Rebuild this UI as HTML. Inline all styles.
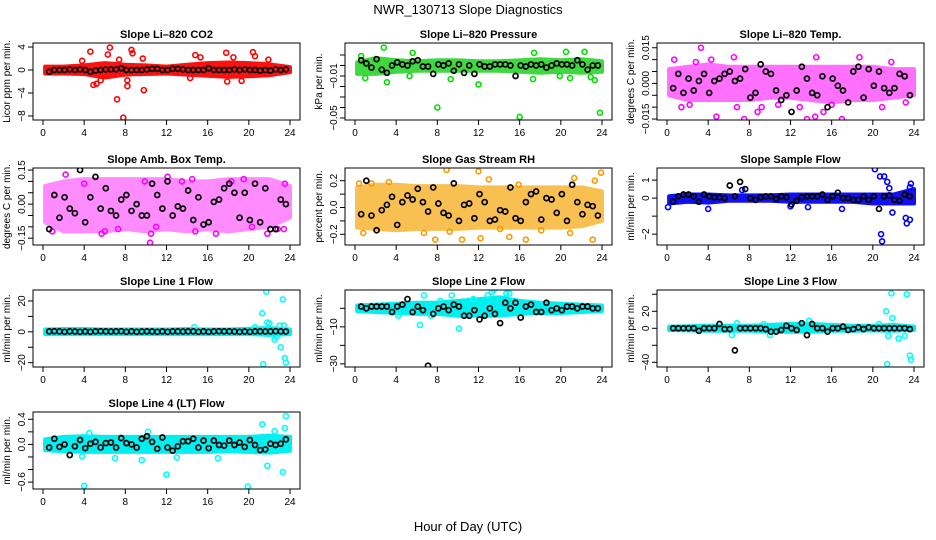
<!DOCTYPE html>
<html><head><meta charset="utf-8">
<style>
html,body{margin:0;padding:0;background:#fff;}
svg{display:block;font-family:"Liberation Sans",sans-serif;}
</style></head>
<body>
<svg id="chart" width="936" height="540" viewBox="0 0 936 540">
<rect width="936" height="540" fill="#fff"/>
<text x="468" y="14" text-anchor="middle" font-size="13">NWR_130713  Slope Diagnostics</text>
<text x="468" y="531" text-anchor="middle" font-size="13">Hour of Day (UTC)</text>
</svg>
<script>
const meanHours = [0.6,1.1,1.6,2.1,2.6,3.1,3.6,4.1,4.6,5.1,5.6,6.1,6.6,7.1,7.6,8.1,8.6,9.1,9.6,10.1,10.6,11.1,11.6,12.1,12.6,13.1,13.6,14.1,14.6,15.1,15.6,16.1,16.6,17.1,17.6,18.1,18.6,19.1,19.6,20.1,20.6,21.1,21.6,22.1,22.6,23.1,23.6];
const bandHours = [0.2,2,4,6,8,10,12,14,16,18,20,22,24];
const xTicks = [0,4,8,12,16,20,24];

const co2Lo = [-0.6,-0.6,-0.7,-1.3,-0.8,-0.7,-0.6,-0.8,-1.0,-1.2,-1.1,-0.9,-0.4];
const co2Hi = [0.6,0.6,0.8,1.2,0.9,0.8,0.6,0.9,1.2,1.3,1.2,1.0,0.5];
const co2OutX = [4.9,5.2,5.6,6.3,6.5,7.2,7.8,8.6,8.7,8.2,8.2,9.8,9.7,3.8,4.6,7.4,14.8,15.3,17.8,18.5,20.4,20.6,21.9,17.9,19.3,14.3];
const co2OutY = [-2.6,-2.4,-1.8,2.7,3.9,-5.1,-8.3,3.5,2.9,-1.8,-2.8,-3.5,2.0,1.6,3.2,1.8,2.6,2.2,3.0,2.2,3.1,2.4,1.8,-2.0,-1.9,-1.4];
const co2Mean = [-0.3,0,0,0,0.1,0,0.1,0,-0.3,-0.1,0,0.1,0.1,0.1,0.3,0,0,0,0,0.1,0.2,0.2,0,0,0.2,0.2,0.1,0,0,0,0,0.3,0,0,0,0,0.1,0,0.1,0,0,-0.1,0,-0.1,0.1,0,0.1];

const presLo = [-0.008,-0.008,-0.006,-0.005,-0.005,-0.005,-0.005,-0.005,-0.006,-0.007,-0.006,-0.007,-0.006];
const presHi = [0.003,0.007,0.005,0.004,0.005,0.005,0.004,0.004,0.005,0.006,0.005,0.006,0.004];
const presOutX = [2.8,5.6,17.4,20.5,22.3,0.6,3.1,5.3,12.0,8.0,16.0,23.8,1.0,9.3,19.9,20.9,22.9,23.3,17.3];
const presOutY = [0.017,0.012,0.012,0.013,0.013,0.009,-0.016,-0.010,-0.018,-0.040,-0.049,-0.045,-0.012,-0.013,-0.010,-0.012,-0.011,-0.014,-0.013];
const presMean = [0.005,0.002,-0.002,0.006,-0.004,-0.007,0.000,0.003,0.001,0.000,0.004,0.005,-0.001,-0.001,-0.008,0.001,0.000,0.002,-0.005,0.001,-0.007,0.000,-0.008,0.001,-0.001,-0.001,0.001,0.001,0.001,0.000,-0.010,0.000,-0.001,0.001,0.000,0.001,-0.002,0.000,0.002,0.001,0.001,0.000,0.005,0.001,-0.004,0.000,0.000];

const tempLo = [-0.005,-0.007,-0.007,-0.007,-0.007,-0.006,-0.006,-0.007,-0.008,-0.007,-0.007,-0.006,-0.005];
const tempHi = [0.006,0.007,0.008,0.007,0.007,0.007,0.007,0.007,0.007,0.007,0.007,0.006,0.006];
const tempOutX = [3.3,0.7,2.8,4.3,6.5,4.8,7.5,8.8,9.2,13.6,14.5,15.2,17.0,18.7,14.4,1.4,2.2,6.8,10.8,12.9,20.9,23.2,16.0,21.8];
const tempOutY = [0.015,0.010,0.009,0.010,0.011,-0.014,-0.015,-0.012,-0.010,-0.015,0.011,-0.012,-0.015,0.011,-0.014,-0.010,-0.009,-0.010,-0.009,-0.010,-0.010,-0.008,-0.009,0.009];
const tempMean = [-0.002,0.004,-0.004,0.002,-0.003,0.001,0.004,-0.004,0.001,0.002,0.004,0.005,0.001,0.002,0.006,-0.006,-0.004,0.008,0.005,0.004,-0.003,-0.007,-0.005,-0.012,-0.003,0.007,0.002,-0.004,-0.005,0.003,-0.010,0.002,-0.001,-0.003,-0.008,0.005,0.007,-0.006,0.006,-0.001,0.005,-0.002,-0.004,-0.002,0.004,0.003,-0.005];

const ambLo = [-0.08,-0.12,-0.12,-0.12,-0.11,-0.12,-0.11,-0.12,-0.11,-0.12,-0.11,-0.10,-0.06];
const ambHi = [0.08,0.10,0.11,0.11,0.11,0.11,0.11,0.10,0.10,0.11,0.11,0.11,0.08];
const ambOutX = [2.2,4.0,0.9,10.4,10.5,12.1,13.5,14.5,18.3,19.5,21.8,23.5,7.3,5.7,6.0,9.9,14.8,16.8,20.3,22.8,23.4,11.0];
const ambOutY = [0.13,0.09,-0.12,-0.17,-0.13,0.12,0.10,0.11,0.10,0.11,-0.13,0.09,-0.11,-0.13,-0.12,0.10,-0.12,-0.13,-0.10,-0.11,-0.11,-0.10];
const ambMean = [-0.11,0.04,-0.06,0.03,-0.02,-0.04,0.15,-0.08,0.03,0.12,-0.02,0.07,-0.03,-0.05,0.02,0.04,-0.03,0.0,-0.05,-0.05,0.09,0.04,-0.02,0.10,-0.05,-0.01,-0.02,0.06,-0.07,0.03,-0.09,-0.08,0.01,0.02,0.07,0.09,0.05,-0.06,0.05,-0.07,0.09,-0.08,0.07,-0.11,-0.11,0.02,0.0];

const rhLo = [-0.15,-0.16,-0.17,-0.16,-0.16,-0.16,-0.15,-0.15,-0.15,-0.15,-0.15,-0.14,-0.10];
const rhHi = [0.15,0.17,0.17,0.16,0.16,0.16,0.15,0.15,0.15,0.15,0.15,0.15,0.12];
const rhOutX = [0.4,0.8,1.6,3.3,7.8,8.9,9.2,10.4,12.0,12.2,13.0,14.1,15.0,15.9,16.6,18.1,20.9,21.3,23.1,23.3,23.9,6.7];
const rhOutY = [0.18,-0.19,0.18,0.19,-0.24,0.28,-0.18,-0.24,0.27,-0.23,0.21,-0.16,-0.22,0.17,-0.24,-0.17,-0.19,0.22,-0.24,0.20,0.26,-0.19];
const rhMean = [-0.05,0.2,-0.06,-0.17,-0.02,0.02,0.08,-0.13,0.04,0.09,0.06,0.14,0.04,-0.03,0.15,0.03,-0.04,-0.06,0.18,-0.1,0.02,0.03,-0.08,0.1,0.04,-0.1,-0.09,-0.02,-0.03,0.15,-0.08,-0.1,0.04,0.1,0.12,-0.09,0.07,0.06,-0.04,0.1,-0.1,0.17,0.04,-0.05,0.02,0.01,-0.06];

const flowLo = [-0.3,-0.2,-0.25,-0.15,-0.15,-0.15,-0.2,-0.2,-0.2,-0.2,-0.3,-0.3,-0.3];
const flowHi = [0.1,0.2,0.2,0.15,0.15,0.15,0.2,0.2,0.2,0.2,0.2,0.2,0.5];
const flowOutX = [20.2,20.7,21.1,21.4,21.6,21.9,23.2,23.3,23.6,20.8,20.9,23.7,23.6,17.0,4.0,7.3,0.1,12.0,13.7];
const flowOutY = [1.6,1.2,1.2,0.9,0.55,-0.8,-1.1,-1.4,-1.2,-2.0,-2.4,0.8,0.6,-0.6,-0.6,0.45,-0.5,-0.45,-0.5];
const flowMean = [-0.2,0.1,0.2,0.2,0.1,-0.2,0.2,0.1,0.05,0.05,0,0.7,0.1,0.9,0.5,0,-0.1,0.05,0.1,0.1,-0.05,0.1,0.05,-0.35,-0.15,0.05,0.1,0.1,0.1,0.2,-0.1,0.1,0.3,0,0,-0.1,-0.1,0.1,-0.1,0.1,-0.6,0.1,0.15,-0.1,-0.15,0.2,0.1];

const l1Lo = [-1.5,-1.5,-1.5,-1.5,-1.5,-1.5,-1.5,-1.5,-1.5,-1.5,-1.5,-2,-1.5];
const l1Hi = [1.5,1.8,1.8,1.5,1.5,1.5,1.5,1.8,1.5,1.5,2,2.5,1.5];
const l1OutX = [21.3,21.7,21.8,22.0,22.5,23.0,23.1,23.3,23.5,23.6,21.4,22.7,23.4,20.6,14.7];
const l1OutY = [12,26,6,5.5,-5,4,-10,21,-17,-20,-21,-3,4,3,3];
const l1Mean = [0.3,0.4,0.3,0,0.3,0.2,0,0.2,0,0.3,0.4,0.3,0.2,0.3,0.4,0,0.3,0,0.2,0.3,0.2,0,0.3,0,0.3,0.3,0.2,0.3,0.3,0,0.3,0,0.3,0.4,0.3,0.3,0.2,0,0.2,0,0.3,0.3,0.2,0.3,0.4,0.3,0.2];

const l2Lo = [-1.5,-2,-2.5,-3,-3,-4,-4,-4,-3,-2.5,-2.5,-2,-1.5];
const l2Hi = [1.5,2,2.5,3,3,4,5,6,4,3,2.5,2,1.5];
const l2OutX = [6.7,6.3,10.1,4.2,13.5,9.4,15.0,14.7,12.9,7.4,8.3,11.5,13.3];
const l2OutY = [7,-9,-11,-4,10,7,8,8,7,-4,4,5,9];
const l2Mean = [1,0,1,1,1,1,-2,1,2,5,-2,1,-1,-31,-3,0,1,-1,2,1,-4,-4,-1,-6,-4,0,-3,-8,3,0,3,-5,1,2,-2,-2,3,-1,0,-1,1,1,0,1,1,0,0];

const l3Lo = [-2,-2.5,-3,-3,-3,-4,-4,-4,-3,-3,-2.5,-3,-2];
const l3Hi = [2,2.5,3,3,3,4,5,5,4,3,3,4,2];
const l3OutX = [21.3,21.8,23.3,21.9,21.5,22.5,23.1,23.6,23.7,21.4,6.3,6.8,10.0,13.8,9.4,20.6];
const l3OutY = [20,41,40,12,-9,-12,-9,-32,-37,-42,-8,6,-8,9,5,5];
const l3Mean = [0,0,0,0,0,-3,0,0,0,5,-1,-1,-26,0,0,0,0,0,-1,-4,-4,-2,3,0,-2,6,-8,5,0,0,-4,0,0,2,-2,-1,1,-1,1,0,0,0,0,0,0,0,-1];

const l4Lo = [-0.09,-0.11,-0.12,-0.12,-0.12,-0.12,-0.12,-0.12,-0.12,-0.11,-0.12,-0.13,-0.10];
const l4Hi = [0.08,0.12,0.13,0.12,0.12,0.12,0.12,0.12,0.12,0.12,0.12,0.14,0.12];
const l4OutX = [4.0,19.9,12.0,21.8,23.3,23.6,21.3,23.5,9.6,3.8,10.2,4.5,7.0,13.0,17.0,22.5];
const l4OutY = [-0.66,-0.67,-0.48,-0.34,-0.44,0.45,0.32,0.26,-0.25,-0.19,0.20,0.18,-0.22,-0.21,-0.22,0.21];
const l4Mean = [-0.05,0.09,-0.04,0,-0.17,-0.03,0.07,-0.06,0.01,0.04,-0.05,0.02,0.03,-0.05,0.1,0.02,0.00,-0.05,0.09,0.13,0.04,-0.07,0.11,-0.05,-0.10,-0.03,0.05,0.05,0.09,-0.05,0.06,-0.06,0.06,-0.01,-0.02,0.06,-0.01,0.03,-0.04,0.07,-0.01,-0.09,-0.08,0.01,-0.01,0.01,0.08];

const panels = [
 {name:'co2',title:'Slope Li\u2013820 CO2',ylab:'Licor ppm per min.',col:0,row:0,ymax:4.7,ymin:-8.7,ticks:[-8,-4,0,4],labels:['\u22128','\u22124','0','4'],color:'#ff0000',fill:'#ff1010',lo:co2Lo,hi:co2Hi,ox:co2OutX,oy:co2OutY,mean:co2Mean},
 {name:'pressure',title:'Slope Li\u2013820 Pressure',ylab:'kPa per min.',col:1,row:0,ymax:0.0214,ymin:-0.0519,ticks:[0.01,0,-0.01,-0.02,-0.03,-0.04,-0.05],labels:['','','\u22120.01','','','','\u22120.05'],color:'#00e000',fill:'#40d840',lo:presLo,hi:presHi,ox:presOutX,oy:presOutY,mean:presMean},
 {name:'li820-temp',title:'Slope Li\u2013820 Temp.',ylab:'degrees C per min.',col:2,row:0,ymax:0.017,ymin:-0.0154,ticks:[0.015,0.01,0.005,0,-0.005,-0.01,-0.015],labels:['0.015','','','0.000','','','\u22120.015'],color:'#ff00ff',fill:'#ff70ff',lo:tempLo,hi:tempHi,ox:tempOutX,oy:tempOutY,mean:tempMean},
 {name:'amb-box-temp',title:'Slope Amb. Box Temp.',ylab:'degrees C per min.',col:0,row:1,ymax:0.159,ymin:-0.18,ticks:[0.15,0.1,0.05,0,-0.05,-0.1,-0.15],labels:['0.15','','','0.00','','','\u22120.15'],color:'#ff00ff',fill:'#ff8cff',lo:ambLo,hi:ambHi,ox:ambOutX,oy:ambOutY,mean:ambMean},
 {name:'gas-stream-rh',title:'Slope Gas Stream RH',ylab:'percent per min.',col:1,row:1,ymax:0.295,ymin:-0.28,ticks:[0.2,0.1,0,-0.1,-0.2],labels:['0.2','','0.0','','\u22120.2'],color:'#ff9900',fill:'#f8c050',lo:rhLo,hi:rhHi,ox:rhOutX,oy:rhOutY,mean:rhMean},
 {name:'sample-flow',title:'Slope Sample Flow',ylab:'ml/min per min.',col:2,row:1,ymax:1.67,ymin:-2.6,ticks:[1,0,-1,-2],labels:['1','0','','\u22122'],color:'#0000ff',fill:'#1010f0',lo:flowLo,hi:flowHi,ox:flowOutX,oy:flowOutY,mean:flowMean},
 {name:'line1-flow',title:'Slope Line 1 Flow',ylab:'ml/min per min.',col:0,row:2,ymax:27.1,ymin:-22.8,ticks:[20,10,0,-10,-20],labels:['20','','0','','\u221220'],color:'#00ffff',fill:'#00f0f0',lo:l1Lo,hi:l1Hi,ox:l1OutX,oy:l1OutY,mean:l1Mean},
 {name:'line2-flow',title:'Slope Line 2 Flow',ylab:'ml/min per min.',col:1,row:2,ymax:9.9,ymin:-31.7,ticks:[0,-10,-20,-30],labels:['','\u221210','','\u221230'],color:'#00ffff',fill:'#00f0f0',lo:l2Lo,hi:l2Hi,ox:l2OutX,oy:l2OutY,mean:l2Mean},
 {name:'line3-flow',title:'Slope Line 3 Flow',ylab:'ml/min per min.',col:2,row:2,ymax:45,ymin:-45.5,ticks:[40,20,0,-20,-40],labels:['','20','0','','\u221240'],color:'#00ffff',fill:'#00f0f0',lo:l3Lo,hi:l3Hi,ox:l3OutX,oy:l3OutY,mean:l3Mean},
 {name:'line4-flow',title:'Slope Line 4 (LT) Flow',ylab:'ml/min per min.',col:0,row:3,ymax:0.516,ymin:-0.71,ticks:[0.4,0.2,0,-0.2,-0.4,-0.6],labels:['0.4','','0.0','','','\u22120.6'],color:'#00ffff',fill:'#00f0f0',lo:l4Lo,hi:l4Hi,ox:l4OutX,oy:l4OutY,mean:l4Mean}
];

const NS='http://www.w3.org/2000/svg';
const svg=document.getElementById('chart');
const colLeft=[33,345,657], rowTop=[43,168,290,412];
const W=267,H=77;
function mk(tag,attrs,parent){const e=document.createElementNS(NS,tag);for(const k in attrs)e.setAttribute(k,attrs[k]);parent.appendChild(e);return e;}

panels.forEach(p=>{
  const L=colLeft[p.col], T=rowTop[p.row];
  const xs=h=>L+10+h*(247/24);
  const ys=v=>T+(p.ymax-v)/(p.ymax-p.ymin)*H;
  const g=mk('g',{},svg);
  
  
  const clip=mk('clipPath',{id:'c-'+p.name},g);
  mk('rect',{x:L,y:T,width:W,height:H},clip);
  const plot=mk('g',{'clip-path':'url(#c-'+p.name+')'},g);
  let pts=[];
  bandHours.forEach((h,i)=>pts.push(xs(h).toFixed(1)+','+ys(p.hi[i]).toFixed(1)));
  for(let i=bandHours.length-1;i>=0;i--)pts.push(xs(bandHours[i]).toFixed(1)+','+ys(p.lo[i]).toFixed(1));
  const band=mk('polygon',{points:pts.join(' '),fill:p.fill,stroke:p.fill,'stroke-width':4,'stroke-linejoin':'round'},plot);
  
  
  p.ox.forEach((h,i)=>{
    const c=mk('circle',{cx:xs(h),cy:ys(p.oy[i]),r:2.5,fill:'none',stroke:p.color,'stroke-width':1.6},plot);
    
    
  });
  meanHours.forEach((h,i)=>{
    const c=mk('circle',{cx:xs(h),cy:ys(p.mean[i]),r:2.5,fill:'none',stroke:'#000','stroke-width':1.7},plot);
    
    
  });
  const box=mk('rect',{x:L,y:T,width:W,height:H,fill:'none',stroke:'#000','stroke-width':1},g);
  
  
  const t=mk('text',{x:L+W/2,y:T-5,'text-anchor':'middle','font-size':11,'font-weight':'bold'},g);
  t.textContent=p.title;
  
  
  const yl=mk('text',{x:0,y:0,'text-anchor':'middle','font-size':10,transform:'translate('+(L-23)+','+(T+H/2)+') rotate(-90)'},g);
  yl.textContent=p.ylab;
  
  
  xTicks.forEach(v=>{
    mk('line',{x1:xs(v),x2:xs(v),y1:T+H,y2:T+H+5,stroke:'#000'},g);
    const tx=mk('text',{x:xs(v),y:T+H+16,'text-anchor':'middle','font-size':10},g);
    tx.textContent=v;
    
    
  });
  p.ticks.forEach((v,i)=>{
    mk('line',{x1:L-5,x2:L,y1:ys(v),y2:ys(v),stroke:'#000'},g);
    if(p.labels[i]){
      const ty=mk('text',{x:0,y:0,'text-anchor':'middle','font-size':10,transform:'translate('+(L-8)+','+ys(v)+') rotate(-90)'},g);
      ty.textContent=p.labels[i];
      
      
    }
  });
});
</script>
</body></html>
